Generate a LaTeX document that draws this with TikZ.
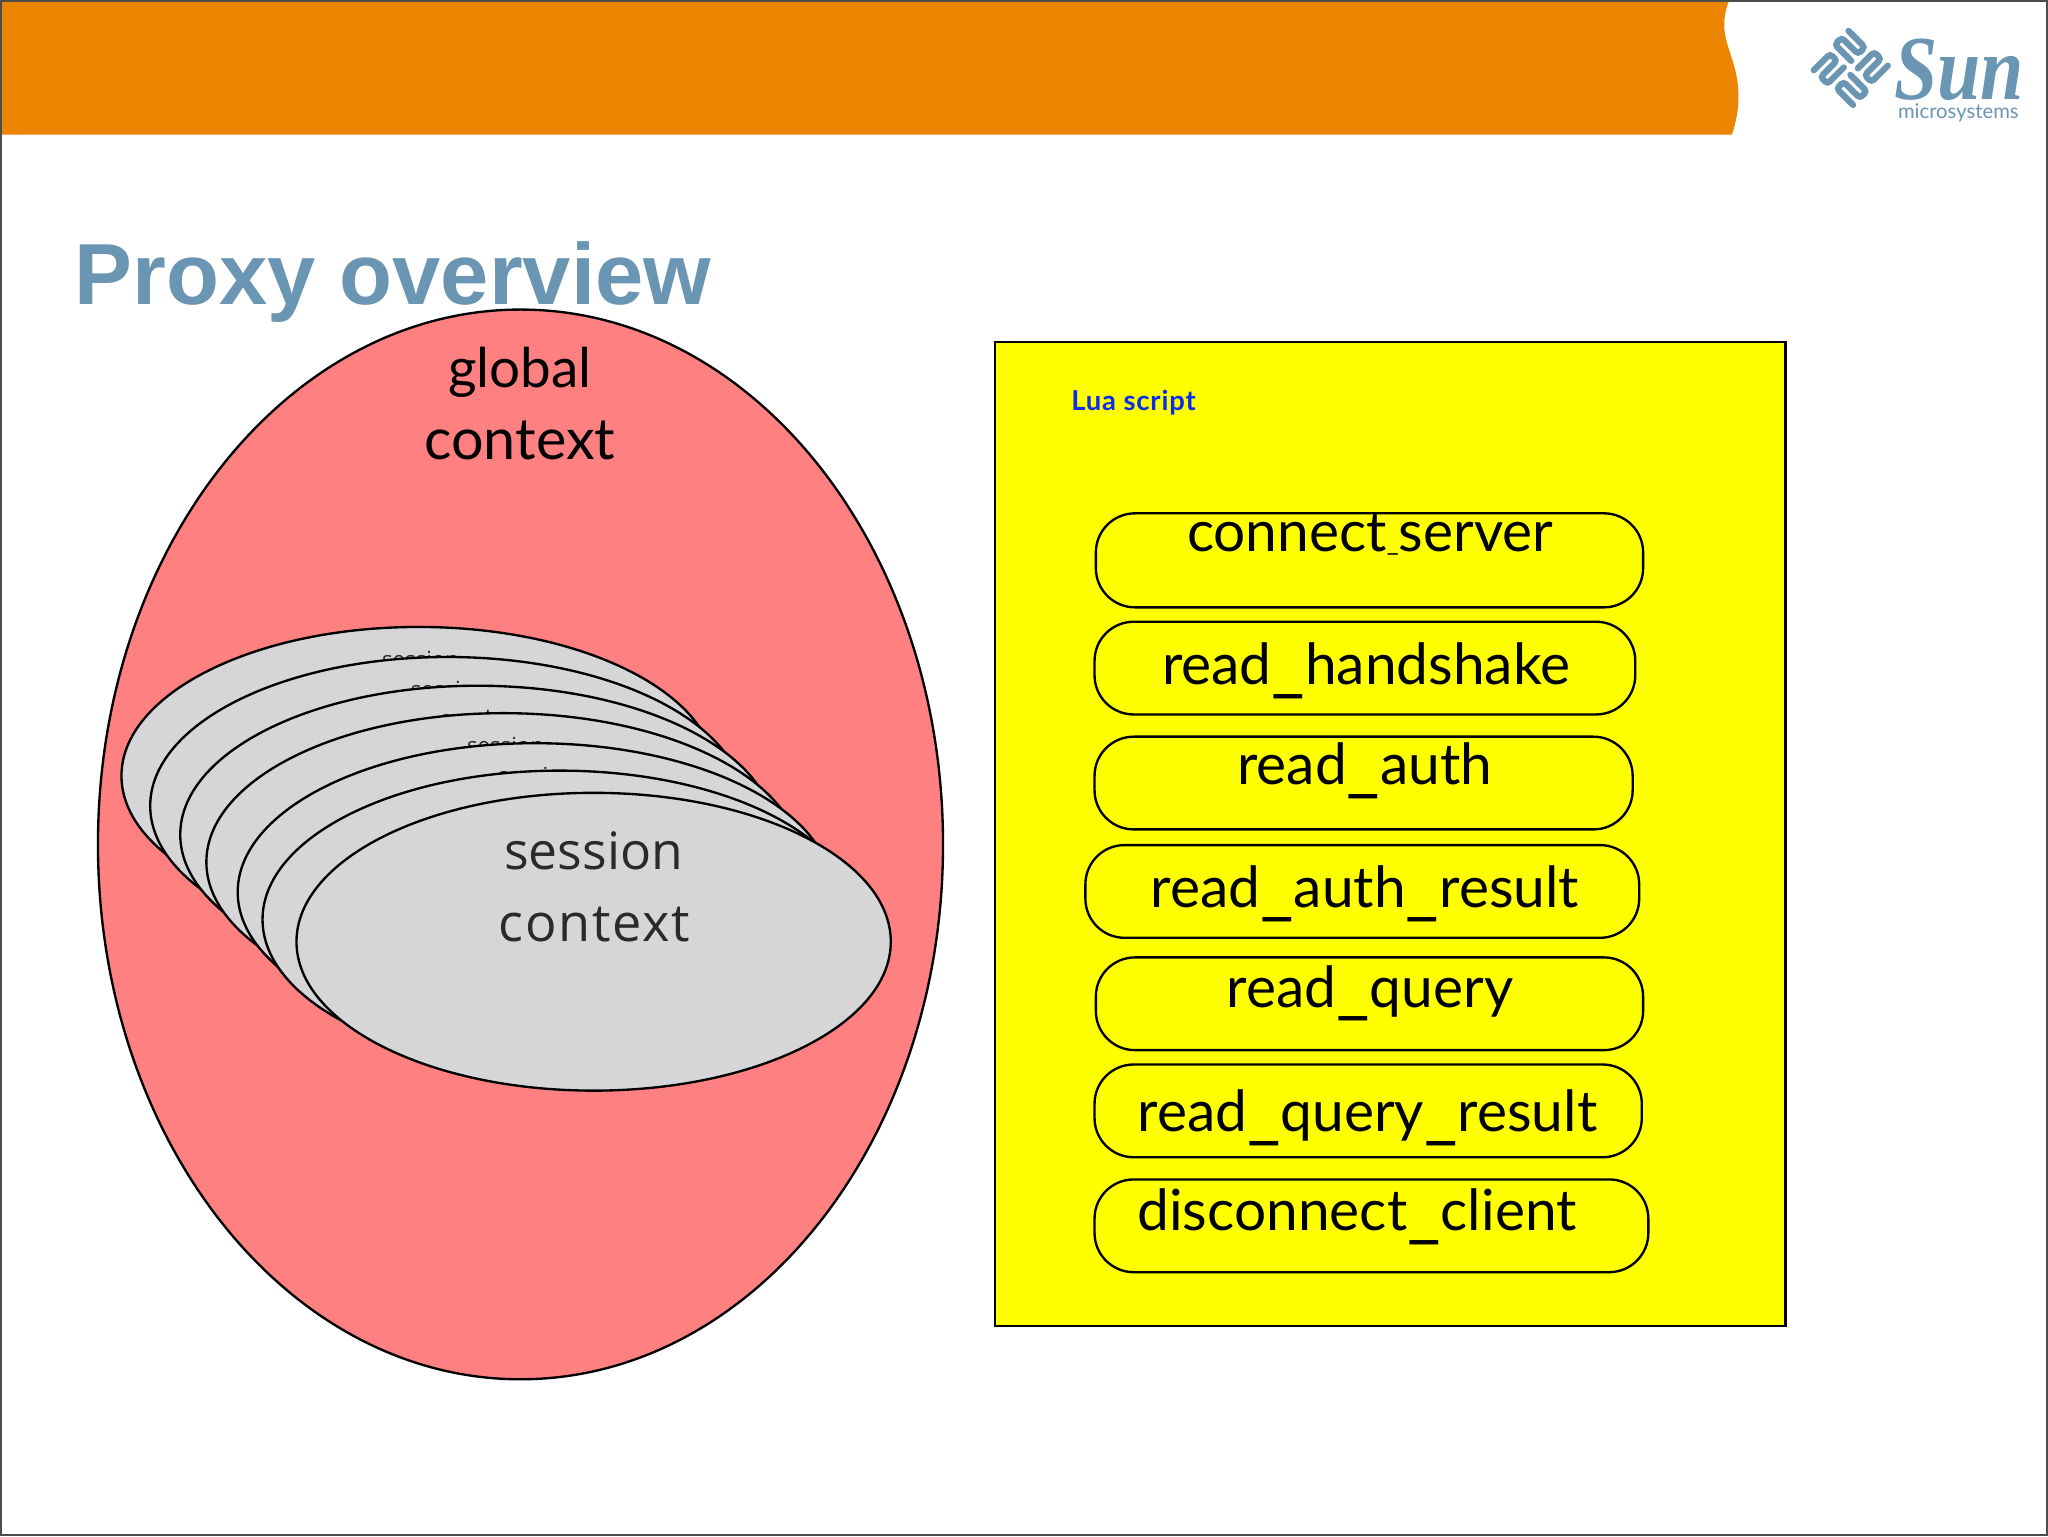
\documentclass[tikz,border=0pt]{standalone}
\usepackage{fontspec}
\usetikzlibrary{shapes.geometric}
\setmainfont{Lato}
\newfontfamily\gill{Lato}
\newfontfamily\gillw[LetterSpace=3]{Lato}
\newfontfamily\sess{Open Sans}
\newfontfamily\sessw[LetterSpace=3.2]{Open Sans}
\newfontfamily\head{Liberation Sans}
\newfontfamily\sunf{Liberation Serif}
\definecolor{sunblue}{RGB}{106,150,180}
\definecolor{bandorange}{RGB}{236,133,0}
\definecolor{globalred}{RGB}{255,128,128}
\definecolor{sessgrey}{RGB}{214,213,215}
\definecolor{sesstext}{RGB}{42,42,44}
\definecolor{luablue}{RGB}{10,45,235}
\definecolor{hookyellow}{RGB}{255,255,0}
\newcommand{\us}{\raisebox{-3pt}{\fontsize{56}{56}\selectfont\_}}
\tikzset{
  outlined/.style={draw=black,line width=1.8pt},
  sessoval/.style={ellipse,outlined,fill=sessgrey,minimum width=455pt,minimum height=228pt,inner sep=0pt},
  hookbox/.style={rectangle,rounded corners=30pt,outlined,fill=hookyellow,inner sep=0pt},
  hooktext/.style={anchor=base,inner sep=0pt,font=\gill\fontsize{43.5}{50}\selectfont,text=black},
  smalltext/.style={anchor=base,inner sep=0pt,font=\sess\fontsize{17}{20}\selectfont,text=sesstext},
  bigtext/.style={anchor=base,inner sep=0pt,font=\gill\fontsize{44}{50}\selectfont,text=black},
  stripe/.style={draw=sunblue,line width=4.8pt,rounded corners=2.6pt,line cap=round}
}
\begin{document}
\begin{tikzpicture}[x=1pt,y=-1pt]
\useasboundingbox (0,0) rectangle (1568,1176);
\fill[white] (0,0) rectangle (1568,1176);
\fill[bandorange] (0,0) -- (1324,0) .. controls (1316,20) and (1322,32) .. (1327,48) .. controls (1333,68) and (1332,85) .. (1326,103) -- (0,103) -- cycle;
\draw[color=black!70,line width=1.2pt] (0.6,0.6) rectangle (1567.4,1175.4);
% Sun logo
\begin{scope}[shift={(1417,52)},rotate=45,scale=1.12]
  \foreach \a in {0,90,180,270}{
    \begin{scope}[rotate=\a]
      \draw[stripe] (3.2,3.6) -- (19,3.6) -- (19,10.2) -- (3.2,10.2) -- (3.2,16.8) -- (19,16.8);
    \end{scope}
  }
\end{scope}
\node[anchor=base west,inner sep=0pt,text depth=0pt,text=sunblue,xscale=0.85,transform shape,font=\sunf\bfseries\itshape\fontsize{70}{70}\selectfont] (sunword) at (1450,76) {Sun};
\node[anchor=base west,inner sep=0pt,text=sunblue,font=\gill\fontsize{15.5}{16}\selectfont] (sunsub) at (1453,91) {microsystems};
% title
\node[anchor=base west,inner sep=0pt,text=sunblue,font=\head\bfseries\fontsize{66.4}{70}\selectfont] (title) at (57,233.5) {Proxy overview};
% global context
\node[ellipse,outlined,fill=globalred,minimum width=647pt,minimum height=819pt,inner sep=0pt] (global) at (398.5,646.5) {};
\node[anchor=base,inner sep=0pt,font=\gill\fontsize{42}{50}\selectfont] (gl1) at (398,297) {global};
\node[bigtext] (gl2) at (398,352) {context};
% session stack
\foreach \n/\l/\t in {1/93/480,2/115/503,3/138/525,4/158/546,5/182/569,6/201/590}{
  \node[sessoval] (s\n) at ({\l+227.5},{\t+114}) {};
  \node[smalltext] (st\n) at ({\l+229},{\t+31}) {session};
}
\node[sessoval] (s7) at (454.5,721) {};
\node[anchor=base,inner sep=0pt,font=\sess\fontsize{39.5}{44}\selectfont,text=sesstext] (st7a) at (454.5,666) {session};
\node[anchor=base,inner sep=0pt,font=\sessw\fontsize{40}{44}\selectfont,text=sesstext] (st7b) at (455,721) {context};
% Lua script
\node[rectangle,outlined,fill=hookyellow,minimum width=605pt,minimum height=753pt,inner sep=0pt] (lua) at (1064.5,638.5) {};
\node[anchor=base west,inner sep=0pt,text=luablue,font=\gillw\bfseries\fontsize{21}{24}\selectfont] (luat) at (820,314) {Lua script};
\foreach \n/\x/\X/\y/\Y in {a/839/1258/393/465,b/838/1252/476/547,c/838/1250/564/635,d/831/1255/647/718,e/839/1258/733/804,f/838/1257/815/886,g/838/1262/903/974}{
  \node[hookbox,minimum width={(\X-\x)*1pt},minimum height={(\Y-\y)*1pt}] (box\n) at ({(\x+\X)/2},{(\y+\Y)/2}) {};
}
\node[hooktext] (ta) at (1049,422) {connect{\fontsize{20}{20}\selectfont\_}server};
\node[hooktext] (tb) at (1046,524) {read\us handshake};
\node[hooktext] (tc) at (1045,601) {read\us auth};
\node[hooktext] (td) at (1045,695) {read\us auth\us result};
\node[hooktext] (te) at (1049,771) {read\us query};
\node[hooktext] (tf) at (1047,866) {read\us query\us result};
\node[hooktext] (tg) at (1039,942) {disconnect\us client};
\end{tikzpicture}
\end{document}
